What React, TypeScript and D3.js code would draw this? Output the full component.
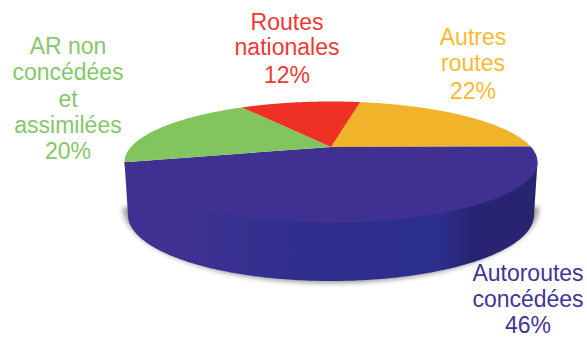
import React from "react";
import * as d3 from "d3";

const categories = ["Autres routes", "Autoroutes concédées", "AR non concédées et assimilées", "Routes nationales"];
const shares = [22, 46, 20, 12];
const sliceColors = ["#f1b32a", "#3f3092", "#82c55e", "#ef3125"];
const labelColors = ["#fdb92e", "#3f3695", "#84c868", "#ee3a33"];
const labelLines = [
  ["Autres", "routes", "22%"],
  ["Autoroutes", "concédées", "46%"],
  ["AR non", "concédées", "et", "assimilées", "20%"],
  ["Routes", "nationales", "12%"],
];
const labelAnchors = [
  { x: 473, baselines: [45, 71, 99] },
  { x: 528, baselines: [281, 307, 333] },
  { x: 68, baselines: [54, 80, 107, 133, 159] },
  { x: 287, baselines: [30, 55, 83] },
];
const wallStops = [
  { at: 0, color: "#3f3092" },
  { at: 0.15, color: "#3f3092" },
  { at: 0.3, color: "#35308f" },
  { at: 0.45, color: "#2f2f8e" },
  { at: 0.77, color: "#2c2e8b" },
  { at: 0.84, color: "#272473" },
  { at: 1, color: "#29246f" },
];

// Disc outline in screen space
const top = { cx: 331, cy: 162, rx: 206.5, ry: 60.5 };
const base = { cx: 331, cy: 215, rx: 203, ry: 66 };
const tilt = -0.25; // perspective shift of the pie centre towards the far rim

// Projects a point of the unit disc (d3 pie angle, radius) onto the tilted top face
function project(angle: number, r: number): [number, number] {
  const u = r * Math.sin(angle);
  const v = -r * Math.cos(angle);
  const w = 1 + v * tilt;
  const x = (u * Math.sqrt(1 - tilt * tilt)) / w;
  const y = (v + tilt) / w;
  return [top.cx + x * top.rx, top.cy + y * top.ry];
}

const pieLayout = d3
  .pie<number>()
  .sort(null)
  .startAngle((10.5 * Math.PI) / 180)
  .endAngle((370.5 * Math.PI) / 180);

const outline = d3.line().curve(d3.curveLinear);

function slicePath(start: number, end: number): string {
  const angles = d3.range(0, 121).map((i) => start + ((end - start) * i) / 120);
  const pts: [number, number][] = [project(0, 0), ...angles.map((a) => project(a, 1))];
  return outline(pts) + "Z";
}

function lowerRim(e: typeof top): [number, number][] {
  return d3.range(0, 181).map((deg) => {
    const t = (deg * Math.PI) / 180;
    return [e.cx + e.rx * Math.cos(t), e.cy + e.ry * Math.sin(t)] as [number, number];
  });
}

// The wall runs up under the top face so no seam shows along the shared rim
const wallPath =
  outline([
    [top.cx + top.rx, top.cy],
    ...lowerRim(base),
    [top.cx - top.rx, top.cy],
  ]) + "Z";
const shadowPath =
  outline(lowerRim({ cx: base.cx, cy: base.cy - 8, rx: base.rx + 5, ry: base.ry + 10 })) + "Z";

export default function App() {
  const slices = pieLayout(shares);
  return (
    <svg
      width={587}
      height={338}
      viewBox="0 0 587 338"
      style={{ position: "absolute", left: 0, top: 0, background: "#fff" }}
      fontFamily="'Liberation Sans', Arial, sans-serif"
    >
      <defs>
        <linearGradient
          id="wall"
          gradientUnits="userSpaceOnUse"
          x1={top.cx - top.rx}
          x2={top.cx + top.rx}
          y1={0}
          y2={0}
        >
          {wallStops.map((s) => (
            <stop key={s.at} offset={s.at} stopColor={s.color} />
          ))}
        </linearGradient>
        <filter id="soft" x="-10%" y="-20%" width="120%" height="140%">
          <feGaussianBlur stdDeviation={2.6} />
        </filter>
      </defs>
      <path d={shadowPath} fill="#777" opacity={0.75} filter="url(#soft)" />
      <path d={wallPath} fill="url(#wall)" />
      <g>
        {slices.map((s, i) => (
          <path
            key={categories[i]}
            d={slicePath(s.startAngle, s.endAngle)}
            fill={sliceColors[i]}
          />
        ))}
      </g>
      <g fontSize={23} textAnchor="middle">
        {labelLines.map((lines, i) =>
          lines.map((line, j) => (
            <text
              key={`${i}-${j}`}
              x={labelAnchors[i].x}
              y={labelAnchors[i].baselines[j]}
              fill={labelColors[i]}
            >
              {line}
            </text>
          ))
        )}
      </g>
    </svg>
  );
}
